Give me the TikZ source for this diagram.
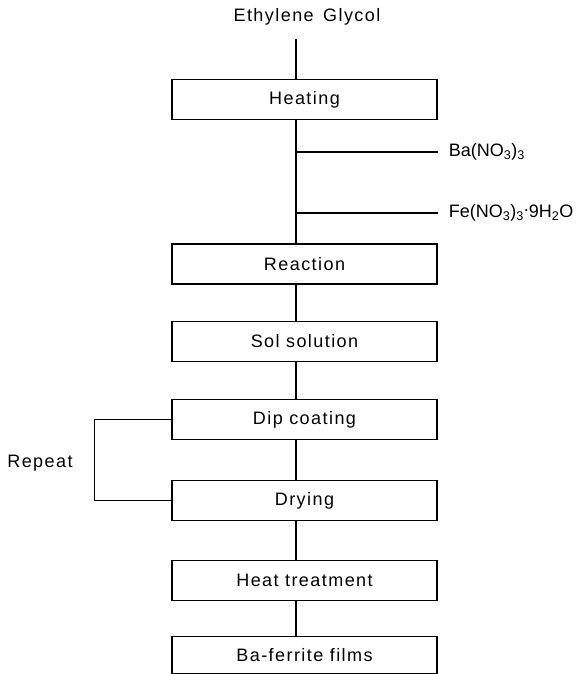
\documentclass[tikz,border=0pt]{standalone}
\usepackage{fontspec}
\setmainfont{Liberation Sans}[LetterSpace=8]
\newfontfamily\chemfont{Liberation Sans}
\usepackage{tikz}
\usetikzlibrary{positioning}

\begin{document}
\begin{tikzpicture}[x=1pt, y=-1pt, line width=1.5pt,
    stepbox/.style={draw, rectangle, minimum width=265pt, minimum height=40pt,
        inner sep=0pt, font=\fontsize{18}{20}\selectfont},
    label/.style={inner sep=0pt, font=\fontsize{18}{20}\selectfont},
    chem/.style={anchor=west, inner sep=0pt, inner xsep=10pt,
        font=\chemfont\fontsize{18}{20}\selectfont}]
    \useasboundingbox (0,0) rectangle (577,674);

    % Spine of the flow
    \coordinate (spine) at (296,0);

    % Starting material
    \node[label] (glycol) at (307,17) {Ethylene\, Glycol};
    \coordinate (glycolend) at (296,39);

    % Process steps
    \node[stepbox] (heating) at (304.5,99.5) {Heating};
    \node[stepbox] (reaction) at (304.5,264) {Reaction};
    \node[stepbox] (sol) at (304.5,341.5) {Sol solution};
    \node[stepbox] (dip) at (304.5,419.5) {Dip coating};
    \node[stepbox] (drying) at (304.5,500.5) {Drying};
    \node[stepbox] (heattreat) at (304.5,580.5) {Heat treatment};
    \node[stepbox, minimum height=37pt] (films) at (304.5,655) {Ba-ferrite films};

    % Added nitrates
    \coordinate (babranch) at (296,152);
    \coordinate (febranch) at (296,213);
    \node[chem] (banitrate) at (438,152)
        {Ba(NO\textsubscript{3})\textsubscript{3}};
    \node[chem] (fenitrate) at (438,213)
        {Fe(NO\textsubscript{3})\textsubscript{3}\raisebox{0.6ex}{.}9H\textsubscript{2}O};

    % Connectors
    \draw (glycolend) -- (heating.north -| spine);
    \draw (heating.south -| spine) -- (reaction.north -| spine);
    \draw (babranch) -- (banitrate.west);
    \draw (febranch) -- (fenitrate.west);
    \draw (reaction.south -| spine) -- (sol.north -| spine);
    \draw (sol.south -| spine) -- (dip.north -| spine);
    \draw (dip.south -| spine) -- (drying.north -| spine);
    \draw (drying.south -| spine) -- (heattreat.north -| spine);
    \draw (heattreat.south -| spine) -- (films.north -| spine);

    % Repeat loop
    \draw (dip.west) -- ++(-77,0) |- (drying.west);
    \node[label] (repeat) at (40,463) {Repeat};
\end{tikzpicture}
\end{document}
